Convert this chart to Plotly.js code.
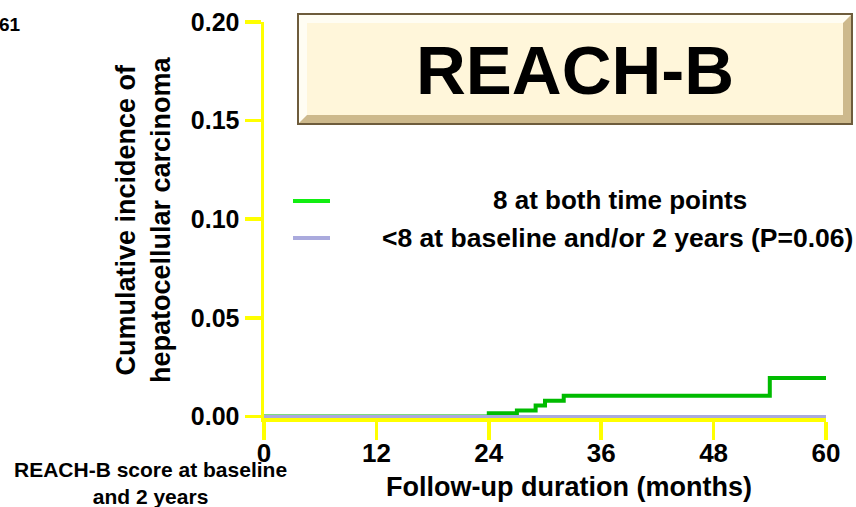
<!DOCTYPE html>
<html>
<head>
<meta charset="utf-8">
<script src="https://cdn.plot.ly/plotly-3.0.1.min.js"></script>
<style>
  html, body { margin: 0; padding: 0; background: #ffffff; }
  #chart { width: 856px; height: 507px; }
</style>
</head>
<body>
<div id="chart"></div>
<script>
// Follow-up time (months) and cumulative HCC incidence per group
const monthsHigh = [0, 24, 27, 29, 30, 32, 54, 60];
const incidenceHigh = [0, 0.0016, 0.003, 0.0055, 0.008, 0.0105, 0.0195, 0.0195];
const monthsLow = [0, 60];
const incidenceLow = [0, 0];

const xTicks = [0, 12, 24, 36, 48, 60];
const yTicks = [0, 0.05, 0.10, 0.15, 0.20];
const yTickText = ['0.00', '0.05', '0.10', '0.15', '0.20'];

const groupLabels = ['8 at both time points', '<8 at baseline and/or 2 years (P=0.06)'];
const panelTitle = 'REACH-B';

const W = 856, H = 507;
const M = { l: 264, r: 30, t: 22, b: 89 };
const plotW = W - M.l - M.r, plotH = H - M.t - M.b;
// pixel -> paper coordinates
const px = x => (x - M.l) / plotW;
const py = y => (H - M.b - y) / plotH;

const FONT = 'Liberation Sans, Arial, Helvetica, sans-serif';
const YELLOW = '#FFFF00';
const GREEN = '#00BB00';
const LAVENDER = '#AAAADD';

const traces = [
  {
    x: monthsHigh, y: incidenceHigh, type: 'scatter', mode: 'lines',
    line: { color: GREEN, width: 4, shape: 'hv' }, hoverinfo: 'skip'
  },
  {
    x: monthsLow, y: incidenceLow, type: 'scatter', mode: 'lines',
    line: { color: LAVENDER, width: 3, shape: 'hv' }, hoverinfo: 'skip'
  }
];

const shapes = [
  // bevelled title plate
  { type: 'rect', xref: 'paper', yref: 'paper', x0: px(298), x1: px(852), y0: py(124), y1: py(14),
    fillcolor: '#CDB98C', line: { color: '#6E5C3C', width: 2 }, layer: 'above' },
  { type: 'path', xref: 'paper', yref: 'paper', layer: 'above',
    path: `M ${px(299)} ${py(15)} L ${px(851)} ${py(15)} L ${px(843)} ${py(23)} L ${px(307)} ${py(23)} L ${px(307)} ${py(115)} L ${px(299)} ${py(123)} Z`,
    fillcolor: '#FFFDF3', line: { width: 0 } },
  { type: 'rect', xref: 'paper', yref: 'paper', x0: px(307), x1: px(843), y0: py(115), y1: py(23),
    fillcolor: '#FFF6DA', line: { width: 0 }, layer: 'above' },
  // legend keys
  { type: 'line', xref: 'paper', yref: 'paper', x0: px(293), x1: px(330), y0: py(201), y1: py(201),
    line: { color: '#11EE11', width: 4 } },
  { type: 'line', xref: 'paper', yref: 'paper', x0: px(293), x1: px(330), y0: py(238), y1: py(238),
    line: { color: LAVENDER, width: 4 } }
];

const annotations = [
  { text: panelTitle, xref: 'paper', yref: 'paper', x: px(575), y: py(70), showarrow: false,
    font: { family: FONT, size: 69, color: '#000', weight: 'bold' }, xanchor: 'center', yanchor: 'middle' },
  { text: groupLabels[0], xref: 'paper', yref: 'paper', x: px(620), y: py(200), showarrow: false,
    font: { family: FONT, size: 26, color: '#000', weight: 'bold' }, xanchor: 'center', yanchor: 'middle' },
  { text: groupLabels[1], xref: 'paper', yref: 'paper', x: px(617), y: py(238), showarrow: false,
    font: { family: FONT, size: 26.5, color: '#000', weight: 'bold' }, xanchor: 'center', yanchor: 'middle' },
  { text: 'Cumulative incidence of<br>hepatocellular carcinoma', xref: 'paper', yref: 'paper',
    x: px(143), y: py(220), showarrow: false, textangle: -90,
    font: { family: FONT, size: 27, color: '#000', weight: 'bold' }, xanchor: 'center', yanchor: 'middle' },
  { text: 'Follow-up duration (months)', xref: 'paper', yref: 'paper', x: px(569), y: py(487), showarrow: false,
    font: { family: FONT, size: 27, color: '#000', weight: 'bold' }, xanchor: 'center', yanchor: 'middle' },
  { text: 'REACH-B score at baseline<br>and 2 years', xref: 'paper', yref: 'paper', x: px(150), y: py(483), showarrow: false,
    font: { family: FONT, size: 21, color: '#000', weight: 'bold' }, xanchor: 'center', yanchor: 'middle' },
  { text: '61', xref: 'paper', yref: 'paper', x: px(-3), y: py(25), showarrow: false,
    font: { family: FONT, size: 19, color: '#000', weight: 'bold' }, xanchor: 'left', yanchor: 'middle' }
];

const layout = {
  width: W, height: H,
  margin: M,
  paper_bgcolor: '#ffffff', plot_bgcolor: '#ffffff',
  showlegend: false,
  xaxis: {
    range: [0, 60], tickvals: xTicks, ticktext: xTicks.map(String),
    showgrid: false, zeroline: false,
    showline: true, linecolor: YELLOW, linewidth: 3.5,
    ticks: 'outside', ticklen: 18, tickwidth: 3.5, tickcolor: YELLOW,
    ticklabelstandoff: -9,
    tickfont: { family: FONT, size: 26, color: '#000', weight: 'bold' }, fixedrange: true
  },
  yaxis: {
    range: [-0.0008, 0.2], tickvals: yTicks, ticktext: yTickText,
    showgrid: false, zeroline: false,
    showline: true, linecolor: YELLOW, linewidth: 3.5,
    ticks: 'outside', ticklen: 16, tickwidth: 3.5, tickcolor: YELLOW,
    tickfont: { family: FONT, size: 25, color: '#000', weight: 'bold' }, fixedrange: true
  },
  shapes: shapes,
  annotations: annotations
};

Plotly.newPlot('chart', traces, layout, { staticPlot: true, displayModeBar: false });
</script>
</body>
</html>
